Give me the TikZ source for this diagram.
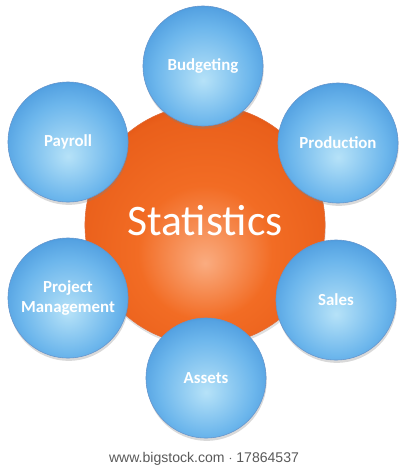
\documentclass[tikz,border=0pt]{standalone}
\usepackage{fontspec}
\setmainfont{Carlito}
\newfontfamily\creditfont{Liberation Sans}
\usetikzlibrary{shadows}
\definecolor{blueLight}{RGB}{182,226,248}
\definecolor{blueMid}{RGB}{108,182,236}
\definecolor{blueDark}{RGB}{50,132,210}
\definecolor{blueRim}{RGB}{36,104,182}
\definecolor{orangeLight}{RGB}{250,172,128}
\definecolor{orangeMid}{RGB}{242,108,36}
\definecolor{orangeDark}{RGB}{218,72,10}
\pgfdeclareradialshading{bluebubble}{\pgfpoint{0bp}{-6bp}}{color(0bp)=(blueLight); color(9bp)=(blueLight!55!blueMid); color(20bp)=(blueMid); color(27bp)=(blueMid!60!blueDark); color(31bp)=(blueDark); color(50bp)=(blueDark)}
\pgfdeclareradialshading{orangebubble}{\pgfpoint{0bp}{-8bp}}{color(0bp)=(orangeLight); color(14bp)=(orangeMid); color(27bp)=(orangeMid!65!orangeDark); color(32bp)=(orangeDark); color(50bp)=(orangeDark)}
\begin{document}
\begin{tikzpicture}[x=0.025cm, y=-0.025cm, line join=round,
		bubble/.style={circle, minimum size=3cm, inner sep=0pt, shade, shading=bluebubble, draw=blueRim!70, line width=0.4pt, text=white, align=center, font=\bfseries\fontsize{12}{14}\selectfont, drop shadow={opacity=0.3, shadow xshift=0.5pt, shadow yshift=-2pt}},
		hub/.style={circle, minimum size=6cm, inner sep=0pt, shade, shading=orangebubble, draw=orangeDark!80, line width=0.4pt, drop shadow={opacity=0.25, shadow xshift=0.5pt, shadow yshift=-2pt}}]
		\def\W{409} \def\H{470}
		\useasboundingbox (0,0) rectangle (\W,\H);
		%\draw[color=gray!50,dashed] (0,0) grid[step=50] (\W,\H);
		\node[hub] (stats) at (205,225) {};
		\node[text=white, font=\fontsize{31}{36}\selectfont] (statslabel) at (205,221) {Statistics};
		\node[bubble] (budget) at (203,66) {Budgeting};
		\node[bubble] (payroll) at (68,142) {Payroll};
		\node[bubble] (production) at (338,143) {Production};
		\node[bubble] (project) at (68,298) {Project\\Management};
		\node[bubble] (sales) at (336,300) {Sales};
		\node[bubble] (assets) at (206,378) {Assets};
		\node[text=black!65, font=\creditfont\fontsize{10}{12}\selectfont] (credit) at (204,459) {www.bigstock.com $\cdot$ 17864537};
\end{tikzpicture}
\end{document}
